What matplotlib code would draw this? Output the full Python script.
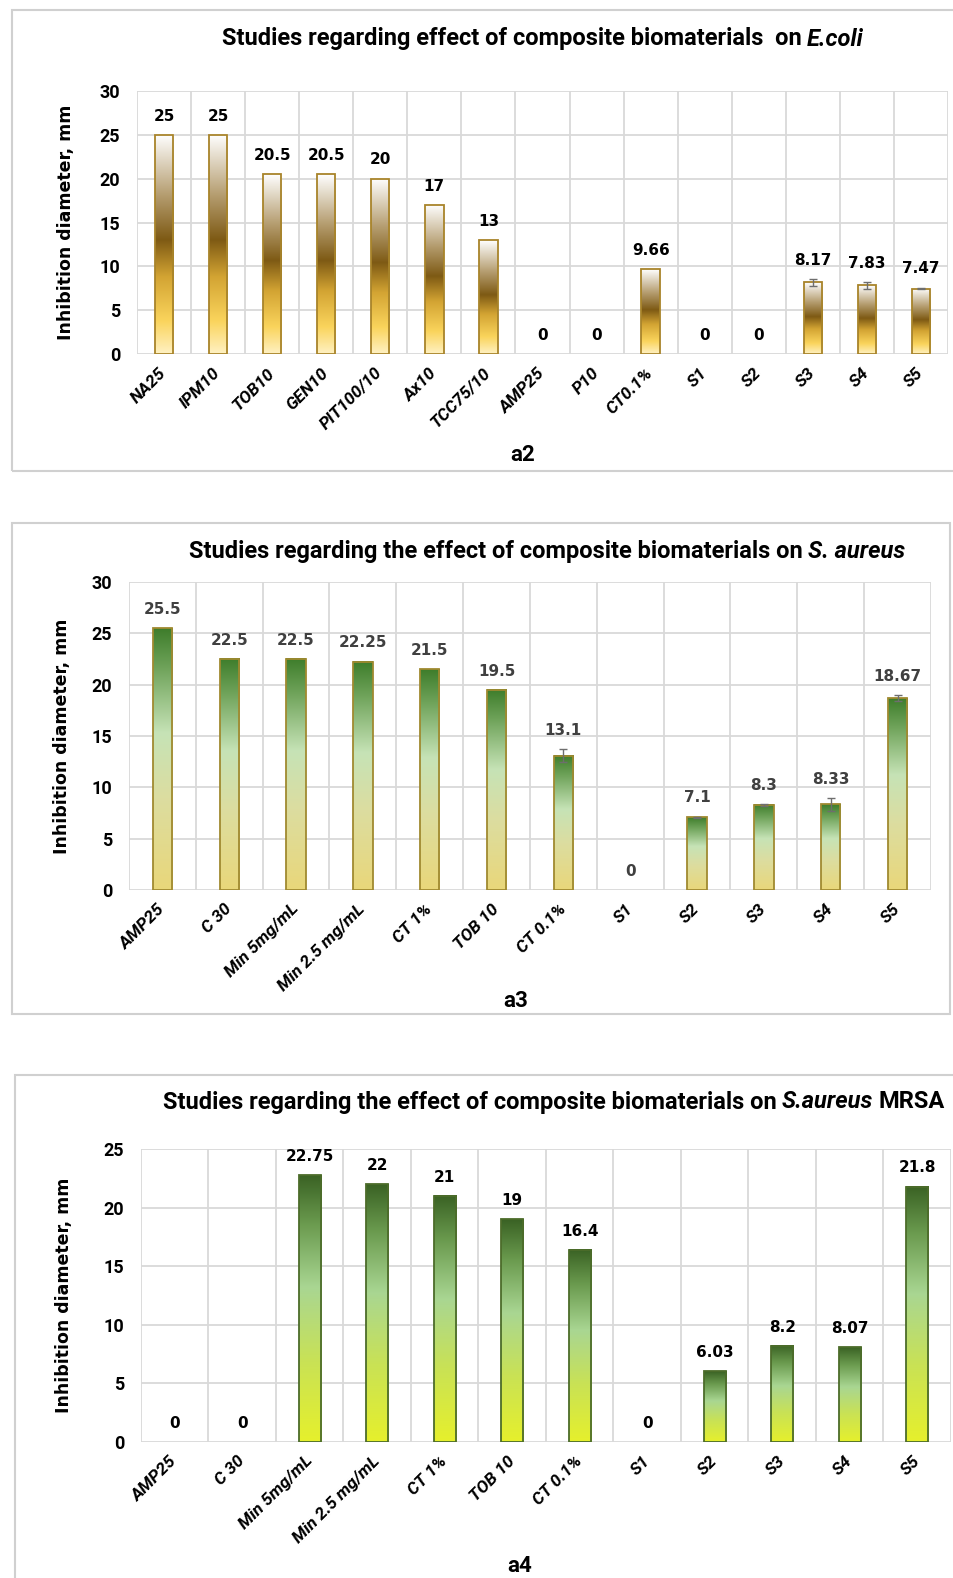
import numpy as np
import matplotlib
matplotlib.use('Agg')
import matplotlib.pyplot as plt
from matplotlib.colors import LinearSegmentedColormap
from matplotlib.patches import Rectangle

# E.coli panel (a2)
ecoli_cats = ['NA25', 'IPM10', 'TOB10', 'GEN10', 'PIT100/10', 'Ax10', 'TCC75/10',
              'AMP25', 'P10', 'CT0.1%', 'S1', 'S2', 'S3', 'S4', 'S5']
ecoli_vals = [25, 25, 20.5, 20.5, 20, 17, 13, 0, 0, 9.66, 0, 0, 8.17, 7.83, 7.47]
ecoli_err = [0, 0, 0, 0, 0, 0, 0, 0, 0, 0, 0, 0, 0.4, 0.4, 0.1]

# S. aureus panel (a3)
sa_cats = ['AMP25', 'C 30', 'Min 5mg/mL', 'Min 2.5 mg/mL', 'CT 1%', 'TOB 10',
           'CT 0.1%', 'S1', 'S2', 'S3', 'S4', 'S5']
sa_vals = [25.5, 22.5, 22.5, 22.25, 21.5, 19.5, 13.1, 0, 7.1, 8.3, 8.33, 18.67]
sa_err = [0, 0, 0, 0, 0, 0, 0.6, 0, 0.05, 0.1, 0.6, 0.3]

# S. aureus MRSA panel (a4)
mrsa_cats = ['AMP25', 'C 30', 'Min 5mg/mL', 'Min 2.5 mg/mL', 'CT 1%', 'TOB 10',
             'CT 0.1%', 'S1', 'S2', 'S3', 'S4', 'S5']
mrsa_vals = [0, 0, 22.75, 22, 21, 19, 16.4, 0, 6.03, 8.2, 8.07, 21.8]

W, H = 954, 1578
fig = plt.figure(figsize=(W / 100, H / 100), dpi=100)
fig.patch.set_facecolor('white')

gold = LinearSegmentedColormap.from_list('gold', [
    (0.0, '#FFF1C2'), (0.15, '#FAD45C'), (0.35, '#D3A433'),
    (0.52, '#7E5A14'), (0.72, '#B49C6E'), (1.0, '#FFFFFF')])
green = LinearSegmentedColormap.from_list('green', [
    (0.0, '#E9D77A'), (0.35, '#DCDDA0'), (0.6, '#C6E3B6'),
    (0.85, '#6FA35A'), (1.0, '#3E7D2B')])
lime = LinearSegmentedColormap.from_list('lime', [
    (0.0, '#E6F02C'), (0.3, '#C9E255'), (0.58, '#A9D692'),
    (0.82, '#6A9A4E'), (1.0, '#3A6224')])

grid_c = '#D9D9D9'
CAL = ['Roboto', 'DejaVu Sans']


def box(x0, y0, x1, y1):
    fig.patches.append(Rectangle((x0 / W, 1 - y1 / H), (x1 - x0) / W, (y1 - y0) / H,
                                 transform=fig.transFigure, fill=False,
                                 edgecolor='#D0D0D0', lw=1.5))


def mixed_title(parts, xc, yc, size):
    r = fig.canvas.get_renderer()
    txts = []
    for s, style in parts:
        txts.append(fig.text(0, 1 - yc / H, s, fontsize=size, fontweight='bold',
                             fontstyle=style, va='center', ha='left', family=CAL))
    gap = size * 0.3
    widths = [t.get_window_extent(r).width for t in txts]
    total = sum(widths) + gap * (len(txts) - 1)
    x = xc - total / 2
    for t, w in zip(txts, widths):
        t.set_x(x / W)
        x += w + gap


def panel(rect, cats, vals, err, ymax, cmap, edge, width, lab_color, ylpad):
    l, t, r, b = rect
    ax = fig.add_axes([l / W, 1 - b / H, (r - l) / W, (b - t) / H])
    n = len(cats)
    if err is None:
        err = [0] * n
    for i, v in enumerate(vals):
        if v > 0:
            grad = np.linspace(0, 1, 256).reshape(-1, 1)
            ax.imshow(grad, extent=[i - width / 2, i + width / 2, 0, v],
                      origin='lower', aspect='auto', cmap=cmap, zorder=2)
            ax.bar(i, v, width, fill=False, edgecolor=edge, lw=1.3, zorder=3)
        if err[i] > 0:
            ax.errorbar(i, v, yerr=err[i], fmt='none', ecolor='#6E6E6E',
                        capsize=3, elinewidth=1, capthick=1, zorder=4)
        ax.annotate(f'{v:g}', (i, v + err[i]), xytext=(0, 13.5),
                    textcoords='offset points', ha='center', va='center',
                    fontsize=11, fontweight='bold', color=lab_color,
                    family='DejaVu Sans', zorder=5)
    ax.set_xlim(-0.5, n - 0.5)
    ax.set_ylim(0, ymax)
    ax.set_yticks(np.arange(0, ymax + 1, 5))
    for k in np.arange(0, ymax + 1, 5):
        ax.axhline(k, color=grid_c, lw=1.3, zorder=0)
    for k in np.arange(n + 1) - 0.5:
        ax.axvline(k, color=grid_c, lw=1.3, zorder=0)
    for s in ax.spines.values():
        s.set_visible(False)
    ax.set_xticks(np.arange(n))
    ax.set_xticklabels(cats, rotation=45, ha='right', va='center',
                       rotation_mode='anchor', fontsize=12.5,
                       fontweight='bold', fontstyle='italic', family=CAL)
    ax.tick_params(axis='x', length=0, pad=12)
    ax.tick_params(axis='y', length=0, pad=12)
    for lbl in ax.get_yticklabels():
        lbl.set_fontweight('bold')
        lbl.set_fontsize(13)
        lbl.set_family(CAL)
    ax.set_ylabel('Inhibition diameter, mm', fontsize=12.5, fontweight='bold',
                  family='DejaVu Sans', labelpad=ylpad)
    ax.set_facecolor('none')
    return ax


# a2
box(12, 10, 970, 471)
ax1 = panel((137, 91, 948, 354), ecoli_cats, ecoli_vals, ecoli_err, 30,
            gold, '#A8842A', 0.34, 'black', 18)
mixed_title([('Studies regarding effect of composite biomaterials  on', 'normal'),
             ('E.coli', 'italic')], 543, 39, 17)
fig.text(523 / W, 1 - 455 / H, 'a2', ha='center', va='center', fontsize=16,
         fontweight='bold', family=CAL)

# a3
box(12, 523, 950, 1014)
ax2 = panel((129, 582, 931, 890), sa_cats, sa_vals, sa_err, 30,
            green, '#A08A30', 0.29, '#404040', 15)
mixed_title([('Studies regarding the effect of composite biomaterials on', 'normal'),
             ('S. aureus', 'italic')], 547, 551, 17)
fig.text(516 / W, 1 - 1001 / H, 'a3', ha='center', va='center', fontsize=16,
         fontweight='bold', family=CAL)

# a4
box(15, 1075, 970, 1600)
ax3 = panel((141, 1149, 951, 1442), mrsa_cats, mrsa_vals, None, 25,
            lime, '#4C6C2A', 0.33, 'black', 22)
mixed_title([('Studies regarding the effect of composite biomaterials on', 'normal'),
             ('S.aureus', 'italic'), ('MRSA', 'normal')], 554, 1102, 17)
fig.text(520 / W, 1 - 1566 / H, 'a4', ha='center', va='center', fontsize=16,
         fontweight='bold', family=CAL)

fig.savefig('out.png', dpi=100)
